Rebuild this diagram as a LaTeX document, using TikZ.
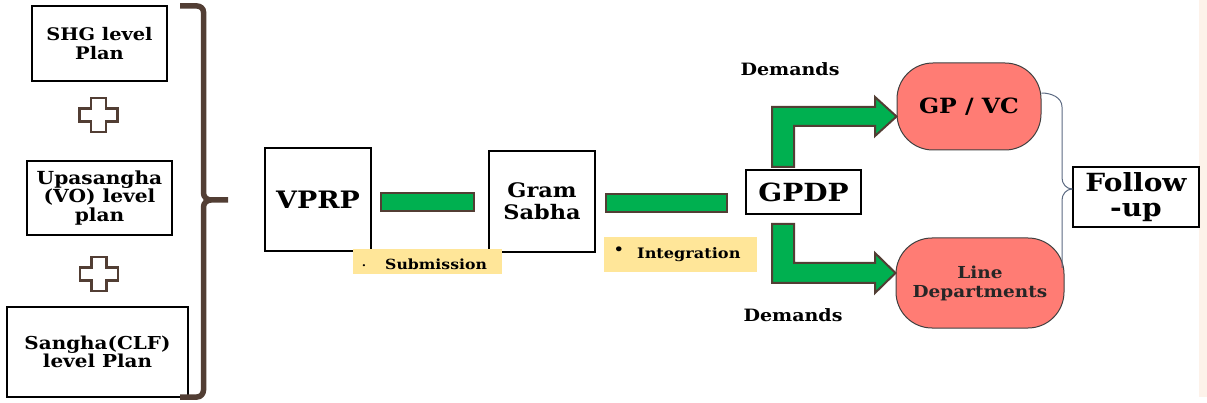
\documentclass[tikz,border=0pt]{standalone}
\usepackage{fontspec}
\setmainfont[FakeStretch=1.12]{DejaVu Serif}
\usetikzlibrary{calc}
\definecolor{brn}{RGB}{82,62,52}
\definecolor{grn}{RGB}{0,176,80}
\definecolor{salmon}{RGB}{255,124,116}
\definecolor{ylw}{RGB}{255,230,153}
\definecolor{peach}{RGB}{253,242,234}
\definecolor{conn}{RGB}{92,106,130}
\newcommand{\fs}[2]{\fontsize{#1}{#2}\selectfont}
\tikzset{
  box/.style={draw=black, line width=1.3pt, fill=white, align=center, inner sep=0pt},
  pill/.style={draw=black!75, line width=1pt, fill=salmon, align=center, inner sep=0pt, rounded corners=36pt},
  bar/.style={draw=brn, line width=2pt, fill=grn},
  fatarrow/.style={draw=brn, line width=2pt, fill=grn, line join=miter},
  plus/.style={draw=brn, line width=2.4pt, fill=white},
  brace/.style={draw=brn, line width=5.5pt},
  tag/.style={fill=ylw, inner sep=0pt},
  link/.style={draw=conn, line width=1pt},
  sz/.style 2 args={font={\bfseries\fs{#1}{#2}}},
}
\begin{document}
\begin{tikzpicture}[x=1pt,y=-1pt, font=\bfseries]
\useasboundingbox (0,0) rectangle (1207,403);
\fill[peach] (1199,0) rectangle (1207,397);

% left column
\node[box, sz={17.3}{19}, minimum width=135pt, minimum height=75pt] (shg) at (99.5,43.5) {SHG level\\Plan};
\node[box, sz={18}{18.3}, minimum width=145pt, minimum height=74pt] (upa) at (99.5,198) {Upasangha\\(VO) level\\plan};
\node[box, sz={17.8}{17.7}, minimum width=181pt, minimum height=90pt] (sangha) at (97.5,352) {Sangha(CLF)\\level Plan};

% plus signs
\foreach \cx/\cy in {98.5/115, 99/274}{
  \draw[plus] (\cx-7.5,\cy-17) -- (\cx+7.5,\cy-17) -- (\cx+7.5,\cy-6.5) -- (\cx+19,\cy-6.5) -- (\cx+19,\cy+6.5)
    -- (\cx+7.5,\cy+6.5) -- (\cx+7.5,\cy+17) -- (\cx-7.5,\cy+17) -- (\cx-7.5,\cy+6.5) -- (\cx-19,\cy+6.5)
    -- (\cx-19,\cy-6.5) -- (\cx-7.5,\cy-6.5) -- cycle;
}

% brace
\draw[brace] (180,6) -- (197,6) to[out=0,in=90] (203.5,12) -- (203.5,193) to[out=-90,in=180] (211,200) -- (228,200);
\draw[brace] (211,200) to[out=180,in=90] (203.5,207) -- (203.5,390) to[out=-90,in=0] (197,397) -- (180,397);

% middle row
\node[box, sz={24}{28}, minimum width=106pt, minimum height=103pt] (vprp) at (318,199.5) {VPRP};
\node[box, sz={20}{21.7}, minimum width=106pt, minimum height=101pt] (gram) at (542,201.5) {Gram\\Sabha};
\node[box, sz={25}{28}, minimum width=115pt, minimum height=44pt] (gpdp) at (803.5,192) {GPDP};

\draw[bar] (381,193) rectangle (474,211);
\draw[bar] (606,194) rectangle (727,212);

\node[tag, minimum width=149pt, minimum height=25pt] (sub) at (427.5,261.5) {};
\node[anchor=base, inner sep=0pt, sz={11}{12}] (subb) at (364,269.5) {·};
\node[anchor=base west, inner sep=0pt, sz={14}{15}] (subt) at (385,270) {Submission};
\node[tag, minimum width=153pt, minimum height=35pt] (int) at (680.5,254.5) {};
\node[anchor=base, inner sep=0pt, sz={14}{15}] (intb) at (619,255) {•};
\node[anchor=base west, inner sep=0pt, sz={14.4}{15}] (intt) at (637,259) {Integration};

% right part
\node[pill, sz={21}{22}, minimum width=144pt, minimum height=87pt] (gp) at (969,106.5) {GP / VC};
\node[pill, sz={16.5}{19}, text=black!85, minimum width=168pt, minimum height=90pt] (line) at (980,283) {Line\\Departments};
\node[box, sz={25}{25}, minimum width=126pt, minimum height=60pt] (follow) at (1136,197) {Follow\\-up};

\node[sz={17}{17}] (d1) at (790,69) {Demands};
\node[sz={17}{17}] (d2) at (793,315) {Demands};

% fat arrows
\draw[fatarrow] (772,167) -- (772,107) -- (875,107) -- (875,97) -- (gp.west |- 0,116.5) -- (875,136) -- (875,126) -- (794,126) -- (794,167) -- cycle;
\draw[fatarrow] (772,224) -- (794,224) -- (794,263) -- (875,263) -- (875,253) -- (line.west |- 0,273) -- (875,293) -- (875,283) -- (772,283) -- cycle;

% follow-up connectors
\coordinate (m) at ($(follow.west)+(0,-8)$);
\draw[link] ($(gp.east)+(0,-13.5)$) to[out=0,in=90] (1062,107) -- (1062,178) to[out=-90,in=180] (m);
\draw[link] (m) to[out=180,in=90] (1062,200) -- (1062,268);
\end{tikzpicture}
\end{document}
